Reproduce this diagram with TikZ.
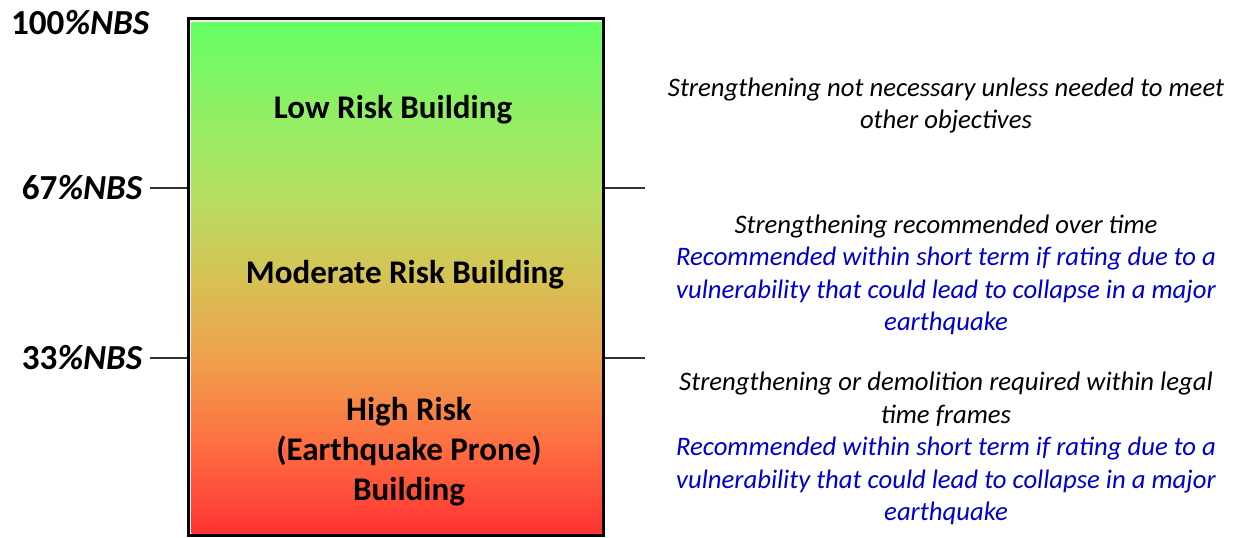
\documentclass[tikz,border=0pt]{standalone}
\usepackage{fontspec}
\setmainfont{Carlito}
\usepackage{tikz}
\usetikzlibrary{positioning}
\definecolor{riskred}{HTML}{FF3333}
\definecolor{riskorange}{HTML}{FF6A40}
\definecolor{riskamber}{HTML}{F0A04C}
\definecolor{riskyellow}{HTML}{D6C254}
\definecolor{risklime}{HTML}{B2E262}
\definecolor{riskgreen}{HTML}{66FF66}
\definecolor{noteblue}{HTML}{0000CC}
\pgfdeclareverticalshading{riskshade}{100bp}{%
    color(0bp)=(riskred); color(25bp)=(riskred); color(33bp)=(riskorange);
    color(42bp)=(riskamber); color(50bp)=(riskyellow); color(59bp)=(risklime);
    color(75bp)=(riskgreen); color(100bp)=(riskgreen)}
\newcommand{\nbslabel}[1]{#1{\itshape\%NBS}}
\tikzset{
    nbs/.style={font=\fontsize{10}{12}\selectfont\bfseries, inner sep=2pt},
    zone/.style={font=\fontsize{9.4}{11.38}\selectfont\bfseries, align=center, inner sep=0pt},
    note/.style={font=\fontsize{7.6}{9.25}\selectfont\itshape, align=center, inner sep=0pt},
    tick/.style={line width=0.45pt, black!80},
}

\begin{document}
\begin{tikzpicture}
    \useasboundingbox (0,0) rectangle (12.39,5.38);
    %\draw[help lines] (0,0) grid (12,5);
    \node[draw, line width=0.03cm, fill=black!8, minimum width=4.15cm, minimum height=5.17cm, inner sep=0pt] (box) at (3.96,2.605) {};
    \shade[shading=riskshade] ([shift={(0.045,0.04)}]box.south west) rectangle ([shift={(-0.035,-0.05)}]box.north east);

    \node[nbs, anchor=east] (l100) at (1.57,5.15) {\nbslabel{100}};
    \foreach \p/\y in {67/3.50, 33/1.80}
    {%
        \node[nbs, anchor=east] (l\p) at (1.50,\y) {\nbslabel{\p}};
        \coordinate (r\p) at (6.45,\y);
        \draw[tick] (l\p.east) -- (l\p.east -| box.west);
        \draw[tick] (box.east |- r\p) -- (r\p);
    }

    \node[zone] (low) at (3.93,4.28) {Low Risk Building};
    \node[zone] (moderate) at (4.05,2.63) {Moderate Risk Building};
    \node[zone] (high) at (4.09,0.86) {High Risk\\(Earthquake Prone)\\Building};

    \node[note] (lownote) at (9.46,4.325) {Strengthening not necessary unless needed to meet\\other objectives};
    \node[note] (modnote) at (9.46,2.63) {Strengthening recommended over time\\
        \color{noteblue}Recommended within short term if rating due to a\\
        \color{noteblue}vulnerability that could lead to collapse in a major\\
        \color{noteblue}earthquake};
    \node[note] (highnote) at (9.46,0.895) {Strengthening or demolition required within legal\\time frames\\
        \color{noteblue}Recommended within short term if rating due to a\\
        \color{noteblue}vulnerability that could lead to collapse in a major\\
        \color{noteblue}earthquake};
\end{tikzpicture}
\end{document}
